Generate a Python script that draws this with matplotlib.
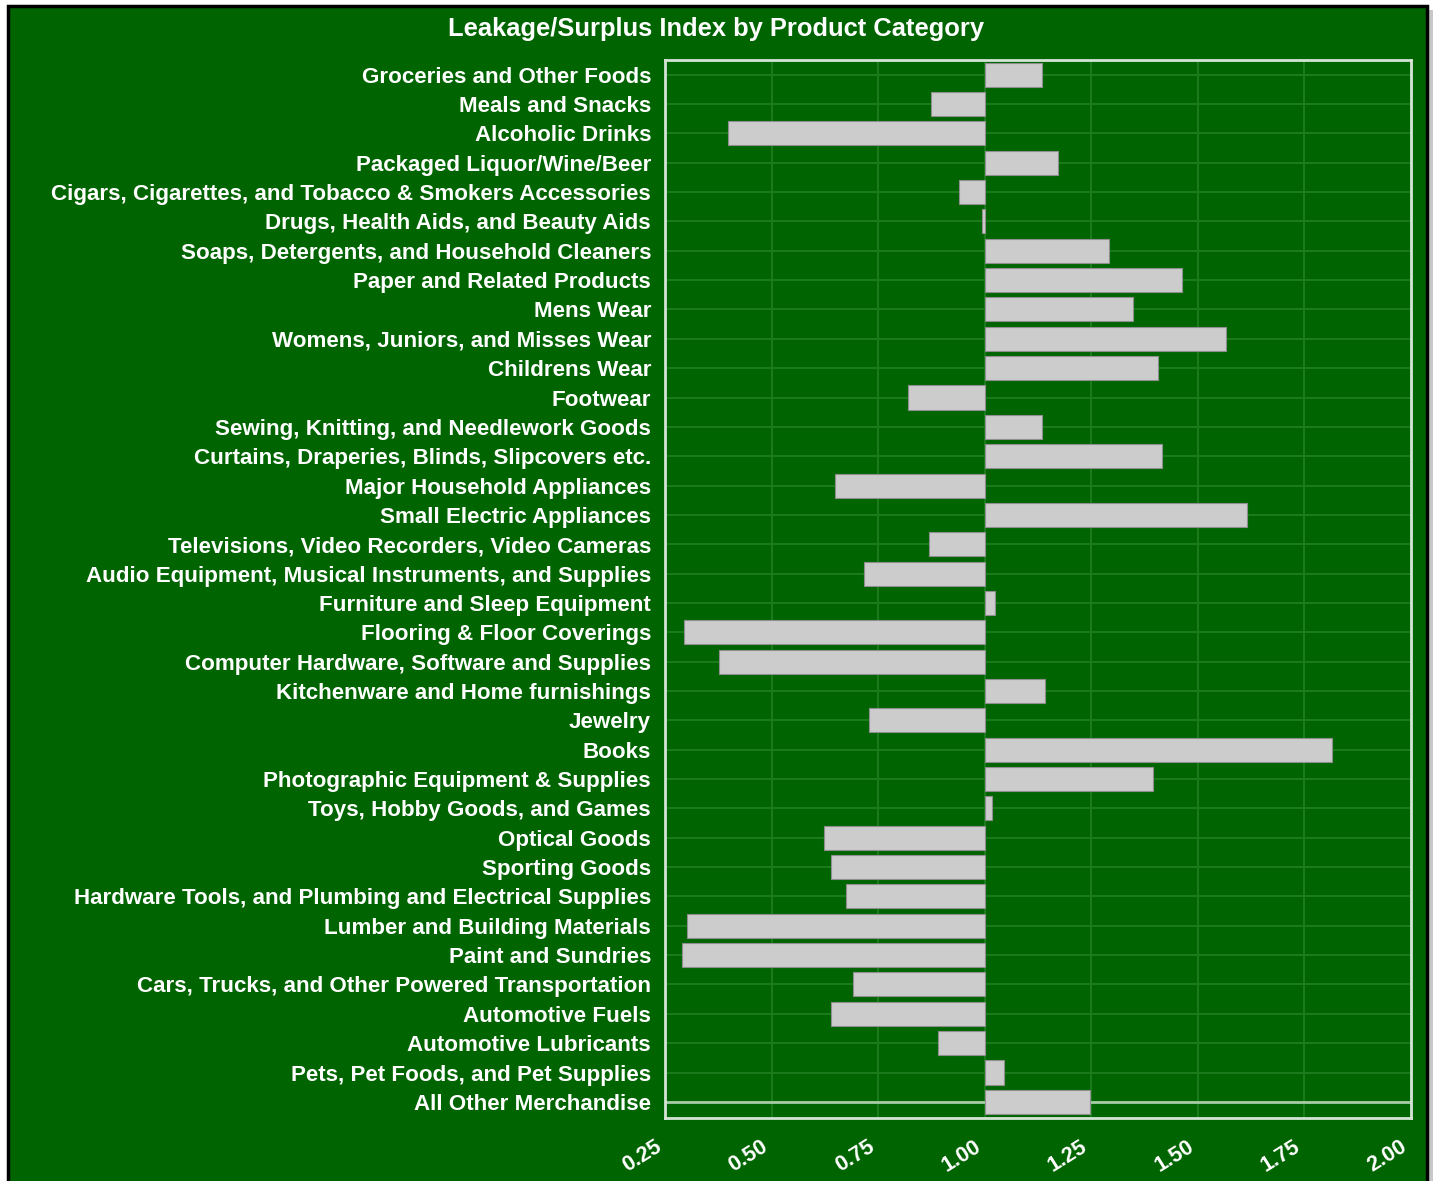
import numpy as np
import matplotlib.pyplot as plt
from matplotlib.patches import Rectangle

# ------------------------------------------------------------------
# dados
# ------------------------------------------------------------------
categorias = [
    "Groceries and Other Foods",
    "Meals and Snacks",
    "Alcoholic Drinks",
    "Packaged Liquor/Wine/Beer",
    "Cigars, Cigarettes, and Tobacco & Smokers Accessories",
    "Drugs, Health Aids, and Beauty Aids",
    "Soaps, Detergents, and Household Cleaners",
    "Paper and Related Products",
    "Mens Wear",
    "Womens, Juniors, and Misses Wear",
    "Childrens Wear",
    "Footwear",
    "Sewing, Knitting, and Needlework Goods",
    "Curtains, Draperies, Blinds, Slipcovers etc.",
    "Major Household Appliances",
    "Small Electric Appliances",
    "Televisions, Video Recorders, Video Cameras",
    "Audio Equipment, Musical Instruments, and Supplies",
    "Furniture and Sleep Equipment",
    "Flooring & Floor Coverings",
    "Computer Hardware, Software and Supplies",
    "Kitchenware and Home furnishings",
    "Jewelry",
    "Books",
    "Photographic Equipment & Supplies",
    "Toys, Hobby Goods, and Games",
    "Optical Goods",
    "Sporting Goods",
    "Hardware Tools, and Plumbing and Electrical Supplies",
    "Lumber and Building Materials",
    "Paint and Sundries",
    "Cars, Trucks, and Other Powered Transportation",
    "Automotive Fuels",
    "Automotive Lubricants",
    "Pets, Pet Foods, and Pet Supplies",
    "All Other Merchandise",
]

indice = [
    1.135, 0.875, 0.397, 1.173, 0.940, 0.994,
    1.292, 1.462, 1.347, 1.565, 1.407, 0.819,
    1.135, 1.417, 0.649, 1.616, 0.869, 0.716,
    1.023, 0.295, 0.376, 1.141, 0.728, 1.815,
    1.395, 1.016, 0.622, 0.639, 0.674, 0.301,
    0.289, 0.692, 0.639, 0.891, 1.045, 1.248,
]

base = 1.0
xticks = [0.25, 0.50, 0.75, 1.00, 1.25, 1.50, 1.75, 2.00]
titulo = "Leakage/Surplus Index by Product Category"

# ------------------------------------------------------------------
# estilo
# ------------------------------------------------------------------
verde = '#006400'
cor_grade = '#1f7d1f'
cor_barra = '#cccccc'
plt.rcParams['font.family'] = ['Liberation Sans', 'DejaVu Sans']
plt.rcParams['font.weight'] = 'bold'

fig = plt.figure(figsize=(14.33, 11.81), dpi=100, facecolor='white')

# painel verde com borda preta (atras dos eixos)
fig.patches.append(Rectangle((1428 / 1433, 0), 5 / 1433, 1 - 10 / 1181,
                             transform=fig.transFigure, facecolor='#c8c8c8',
                             edgecolor='none', zorder=-2))
fig.patches.append(Rectangle((8 / 1433, -0.01), 1419 / 1433, 1 - 6 / 1181 + 0.01,
                             transform=fig.transFigure, facecolor=verde,
                             edgecolor='black', linewidth=2.5, zorder=-1))

ax = fig.add_axes([665 / 1433, 1 - 1118 / 1181, (1411 - 665) / 1433, (1118 - 60) / 1181])
ax.set_facecolor(verde)

y = np.arange(len(categorias))
largura = np.array(indice) - base
ax.barh(y, largura, left=base, height=0.82, color=cor_barra,
        edgecolor='#8f8f8f', linewidth=0.8, zorder=3)

ax.set_xlim(0.25, 2.0)
ax.set_ylim(len(categorias) - 0.45, -0.5)
ax.set_xticks(xticks)
ax.set_xticklabels([f"{t:.2f}" for t in xticks], rotation=32, ha='right', va='top')
ax.set_yticks(y)
ax.set_yticklabels(categorias)
ax.tick_params(axis='x', length=0, colors='white', labelsize=15.5, pad=13)
ax.tick_params(axis='y', length=0, colors='white', labelsize=16.1, pad=10)

ax.grid(True, color=cor_grade, linewidth=1.3, zorder=1)
ax.set_axisbelow(True)
ax.axhline(y[-1], color='#a8cca8', linewidth=2, zorder=2)

for s in ax.spines.values():
    s.set_color('#d5e5d5')
    s.set_linewidth(2)

fig.text(0.5, 1 - 29 / 1181, titulo, ha='center', va='center',
         color='white', fontsize=18.4, fontweight='bold')

fig.savefig('out.png', dpi=100, facecolor=fig.get_facecolor())
